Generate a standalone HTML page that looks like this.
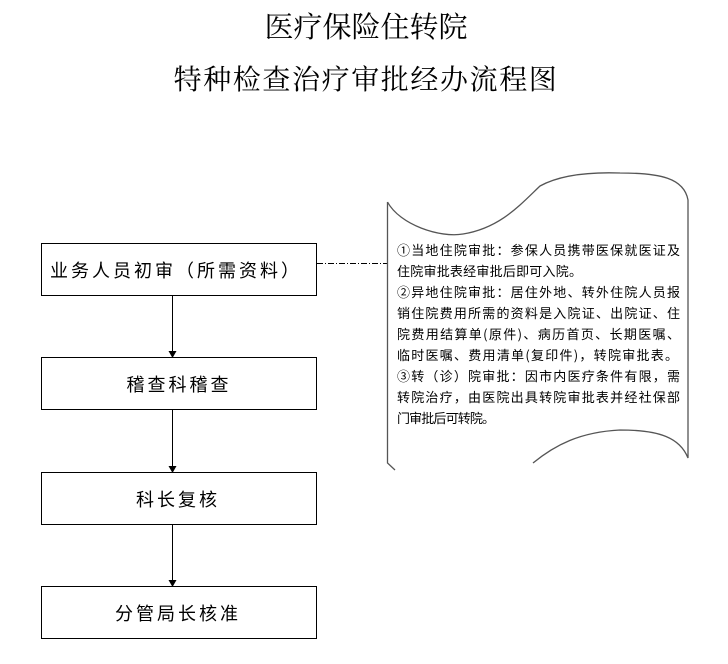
<!DOCTYPE html>
<html><head><meta charset="utf-8"><style>
body{margin:0;background:#fff;width:728px;height:664px;overflow:hidden;font-family:"Liberation Sans","Noto Sans CJK SC","WenQuanYi Zen Hei",sans-serif;}
</style></head><body>
<svg width="728" height="664" xmlns="http://www.w3.org/2000/svg" style="position:absolute;left:0;top:0">
<g font-family="Liberation Serif, Noto Serif CJK SC, Noto Sans CJK SC, serif" fill="#000" text-anchor="middle">
<text x="366" y="37" font-size="29">医疗保险住转院</text>
<text x="366" y="89" font-size="28" letter-spacing="1.6">特种检查治疗审批经办流程图</text>
</g>
<g fill="#fff" stroke="#000" stroke-width="1">
<rect x="41.5" y="243.5" width="275" height="52"/>
<rect x="41.5" y="357.5" width="275" height="52"/>
<rect x="41.5" y="472.5" width="275" height="52"/>
<rect x="41.5" y="586.5" width="275" height="52"/>
</g>
<g stroke="#000" stroke-width="1">
<line x1="172.5" y1="296" x2="172.5" y2="352"/>
<line x1="172.5" y1="410" x2="172.5" y2="467"/>
<line x1="172.5" y1="525" x2="172.5" y2="581"/>
</g>
<g fill="#000">
<polygon points="168.5,351 176.5,351 172.5,358"/>
<polygon points="168.5,466 176.5,466 172.5,473"/>
<polygon points="168.5,580 176.5,580 172.5,587"/>
</g>
<line x1="317" y1="263.5" x2="387" y2="263.5" stroke="#000" stroke-width="1" stroke-dasharray="6,2,1,2"/>
<path d="M387.5,202 C400,225 440,238 463,234 C500,228 520,205 540,186 C560,175 590,172 620,173 C660,173 684,178 688,200 L688,458 C680,438 660,430 620,430 C580,432 555,445 533,463 M387.5,202 L387.5,463 L395,470" fill="none" stroke="#555" stroke-width="1.3"/>
<g font-family="Noto Sans CJK SC, WenQuanYi Zen Hei, sans-serif" font-size="13" fill="#000" lengthAdjust="spacing">
<text x="397" y="255" textLength="283" lengthAdjust="spacing">①当地住院审批：参保人员携带医保就医证及</text>
<text x="397" y="276" textLength="185" lengthAdjust="spacing">住院审批表经审批后即可入院。</text>
<text x="397" y="297" textLength="283" lengthAdjust="spacing">②异地住院审批：居住外地、转外住院人员报</text>
<text x="397" y="318" textLength="283" lengthAdjust="spacing">销住院费用所需的资料是入院证、出院证、住</text>
<text x="397" y="339" textLength="283" lengthAdjust="spacing">院费用结算单(原件)、病历首页、长期医嘱、</text>
<text x="397" y="360" textLength="281" lengthAdjust="spacing">临时医嘱、费用清单(复印件)，转院审批表。</text>
<text x="397" y="381" textLength="283" lengthAdjust="spacing">③转（诊）院审批：因市内医疗条件有限，需</text>
<text x="397" y="402" textLength="283" lengthAdjust="spacing">转院治疗，由医院出具转院审批表并经社保部</text>
<text x="397" y="423" textLength="98" lengthAdjust="spacing">门审批后可转院。</text>
</g>
<g font-family="Liberation Sans, Noto Sans CJK SC, sans-serif" font-size="18" letter-spacing="3" fill="#000" text-anchor="middle">
<text x="176" y="277">业务人员初审（所需资料）</text>
<text x="179" y="391">稽查科稽查</text>
<text x="178" y="506">科长复核</text>
<text x="178" y="620">分管局长核准</text>
</g>
</svg>
</body></html>
